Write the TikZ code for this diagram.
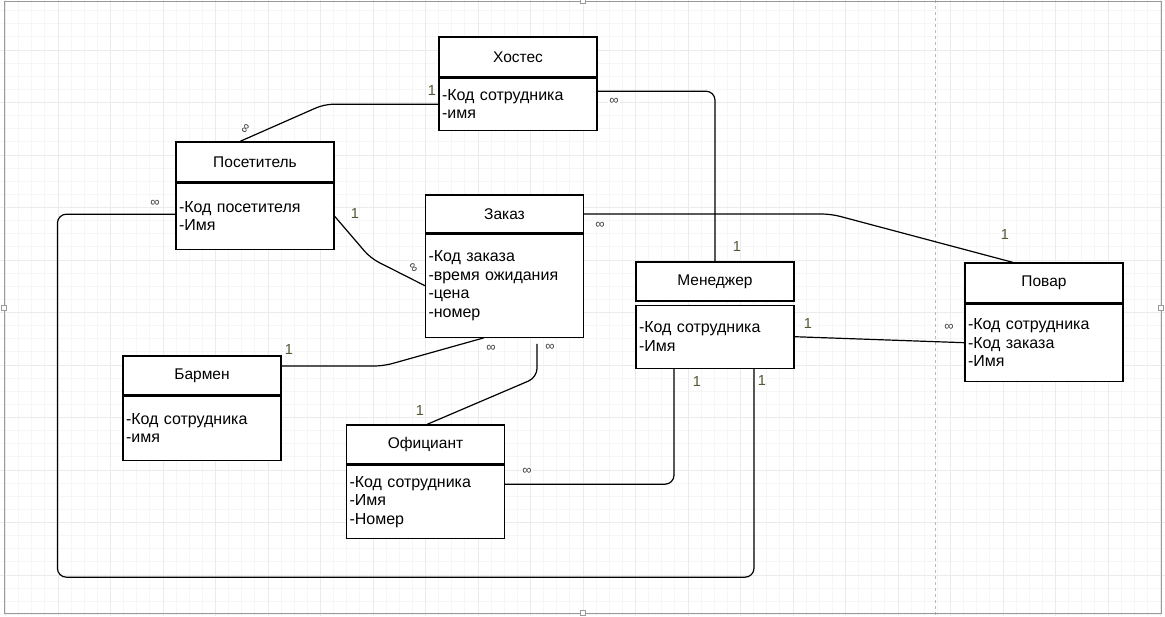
\documentclass[tikz,border=0pt]{standalone}
\usepackage{fontspec}
\setmainfont{Liberation Sans}
\usetikzlibrary{calc}
\definecolor{onecol}{RGB}{85,85,50}
\definecolor{manycol}{RGB}{60,60,60}

\begin{document}
\begin{tikzpicture}[x=1pt,y=-1pt]
% width of each entity box
\def\entw{158pt}
% node style definition
\tikzstyle{head} = [
	draw, fill=white, rectangle, line width=1.2pt,
	minimum width=\entw, minimum height=40pt,
	font=\fontsize{15.5}{18}\selectfont ];
\tikzstyle{attr} = [
	draw, fill=white, rectangle, line width=1.2pt, anchor=north,
	text width=152pt, inner xsep=3pt, align=left,
	font=\fontsize{16}{18.5}\selectfont ];
\tikzstyle{conn} = [line width=1.2pt, rounded corners=9pt];
\tikzstyle{one} = [text=onecol, inner sep=1pt, font=\fontsize{14.5}{14.5}\selectfont];
\tikzstyle{many} = [text=manycol, fill=white, inner sep=1pt, font=\fontsize{13}{13}\selectfont];
\tikzstyle{grip} = [draw=gray!80, fill=white, minimum size=5pt, inner sep=0pt];

% page and grid
\useasboundingbox (0,0) rectangle (1165,616);
\fill[white] (0,0) rectangle (1165,616);
\foreach \i in {0,...,88}
	\draw[gray!7, line width=0.8pt] ({5.5+13.125*\i},0) -- ({5.5+13.125*\i},616);
\foreach \k in {1,...,47}
	\draw[gray!7, line width=0.8pt] (0,{-2.5+13.125*\k}) -- (1165,{-2.5+13.125*\k});
\foreach \i in {0,...,22}
	\draw[gray!16, line width=0.8pt] ({5.5+52.5*\i},0) -- ({5.5+52.5*\i},616);
\foreach \k in {1,...,11}
	\draw[gray!16, line width=0.8pt] (0,{-2.5+52.5*\k}) -- (1165,{-2.5+52.5*\k});
\draw[gray!55, dashed, line width=0.8pt] (935,0) -- (935,616);
\draw[gray!80, line width=0.8pt] (4,1) rectangle (1161,613);
\node[grip] (gt) at (583,1) {};
\node[grip] (gb) at (583,613) {};
\node[grip] (gl) at (4,308) {};
\node[grip] (gr) at (1161,308) {};

% entities
\node[head] (host) at (518,57) { Хостес };
\node[attr, minimum height=52pt] (hostb) at (host.south) { -Код сотрудника\\-имя };

\node[head] (vis) at (255,162) { Посетитель };
\node[attr, minimum height=66pt] (visb) at (vis.south) { -Код посетителя\\-Имя };

\node[head, minimum height=38pt] (ord) at (504.5,214) { Заказ };
\node[attr, minimum height=103pt] (ordb) at (ord.south) { -Код заказа\\-время ожидания\\-цена\\-номер };

\node[head, minimum height=39pt] (mgr) at (715,281.5) { Менеджер };
\node[attr, minimum height=63pt] (mgrb) at ([yshift=-3pt]mgr.south) { -Код сотрудника\\-Имя };

\node[head] (cook) at (1044,283) { Повар };
\node[attr, minimum height=77pt] (cookb) at (cook.south) { -Код сотрудника\\-Код заказа\\-Имя };

\node[head, minimum height=39pt] (bar) at (202,375.5) { Бармен };
\node[attr, minimum height=64pt] (barb) at (bar.south) { -Код сотрудника\\-имя };

\node[head, minimum height=39pt] (wait) at (425.5,444.5) { Официант };
\node[attr, minimum height=73pt] (waitb) at (wait.south) { -Код сотрудника\\-Имя\\-Номер };

% relations
\draw[conn] ([xshift=-15pt]vis.north) -- ([xshift=-114pt]hostb.west) -- (hostb.west);
\draw[conn] ([yshift=13pt]hostb.east) -| (mgr.north);
\draw[conn] (ord.east) -- ++(247,0) -- ([xshift=-31pt]cook.north);
\draw[conn] (visb.east) -- ++(36,42) -- (ordb.west);
\draw[conn] ([yshift=2pt]visb.west) -| ++(-118,363) -| ([xshift=39pt]mgrb.south);
\draw[conn] ([yshift=9.5pt]bar.east) -- ++(102,0) -- ([xshift=-20.5pt]ordb.south);
\draw[conn] ([xshift=1.5pt]wait.north) -- ++(110,-47) -- ([xshift=32.5pt,yshift=-6pt]ordb.south);
\draw[conn] ([yshift=17.5pt]waitb.east) -| ([xshift=-41pt]mgrb.south);
\draw[conn] (mgrb.east) -- (cookb.west);

% cardinalities
\node[one] (n1) at (432,91) { 1 };
\node[one] (n2) at (737,247) { 1 };
\node[one] (n3) at (1005,235) { 1 };
\node[one] (n4) at (355,214) { 1 };
\node[one] (n5) at (762,381) { 1 };
\node[one] (n6) at (289,350) { 1 };
\node[one] (n7) at (420,411) { 1 };
\node[one] (n8) at (697,382) { 1 };
\node[one] (n9) at (808,324) { 1 };

\node[many, rotate=60] (m1) at (246,129) { ∞ };
\node[many] (m2) at (614,101) { ∞ };
\node[many] (m3) at (600,225) { ∞ };
\node[many] (m4) at (155,203) { ∞ };
\node[many, rotate=-60] (m5) at (413,268) { ∞ };
\node[many] (m6) at (491,348) { ∞ };
\node[many] (m7) at (550,347) { ∞ };
\node[many] (m8) at (527,471) { ∞ };
\node[many] (m9) at (949,327) { ∞ };

\end{tikzpicture}
\end{document}
